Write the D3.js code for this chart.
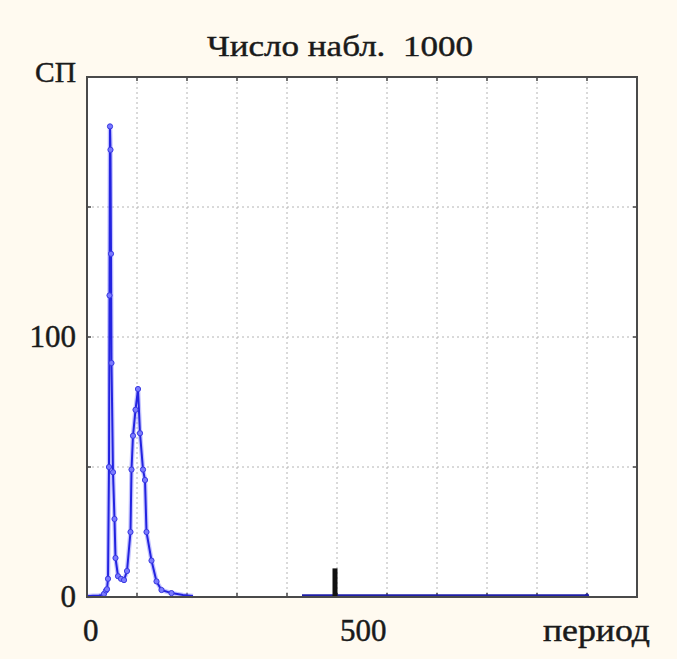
<!DOCTYPE html>
<html>
<head>
<meta charset="utf-8">
<script src="https://cdn.jsdelivr.net/npm/d3@7"></script>
<style>
  html, body { margin: 0; padding: 0; background: #fffaf0; }
  svg { display: block; }
  text { font-family: "Liberation Serif", "DejaVu Serif", serif; fill: #1a1a1a;
         stroke: #1a1a1a; stroke-width: 0.45px; white-space: pre; }
</style>
</head>
<body>
<svg id="chart" width="677" height="659"></svg>
<script>
// Periodogram of the series: spectral density (СП) against period
const titleText = "Число набл.  1000";
const yTitle = "СП";
const xTitle = "период";

// main spectrum: period and value
const periods = [0, 6, 12, 18, 24, 30, 34, 38, 40, 42, 44, 45, 46, 47, 48, 49, 52, 55, 57,
  62, 68, 74, 80, 87, 89, 92, 97, 102, 106, 112, 116, 119, 129, 139, 149, 169, 192, 212];
const values = [0.4, 0.4, 0.5, 0.5, 0.6, 0.8, 1.2, 2.5, 3, 7, 50, 116, 181, 172, 132, 90, 48, 30, 15,
  8, 7, 6.5, 10, 25, 49, 62, 72, 80, 63, 49, 45, 25, 14, 6, 2.7, 1.5, 0.8, 0.4];

// long-period tail of the spectrum
const tailPeriods = [430, 500, 600, 700, 800, 900, 1000];
const tailValues = [0.5, 0.5, 0.5, 0.5, 0.5, 0.5, 0.5];

// highlighted period marker
const markPeriod = 496;
const markValue = 11;

const xTicks = [0, 500];
const xGrid = [100, 200, 300, 400, 500, 600, 700, 800, 900, 1000];
const yTicks = [0, 100];
const yGrid = [50, 100, 150];

const svg = d3.select("#chart");
const plotL = 87, plotR = 637, plotT = 77, plotB = 597;

const x = d3.scaleLinear().domain([0, 1100]).range([plotL, plotR]);
const y = d3.scaleLinear().domain([0, 200]).range([plotB, plotT]);

// plot background
svg.append("rect")
  .attr("x", plotL).attr("y", plotT)
  .attr("width", plotR - plotL).attr("height", plotB - plotT)
  .attr("fill", "#ffffff");

// grid
svg.append("g").selectAll("line").data(xGrid).join("line")
  .attr("x1", d => x(d)).attr("x2", d => x(d))
  .attr("y1", plotT).attr("y2", plotB)
  .attr("stroke", "#b4b4b4").attr("stroke-width", 1)
  .attr("stroke-dasharray", "2,3");
svg.append("g").selectAll("line").data(yGrid).join("line")
  .attr("x1", plotL).attr("x2", plotR)
  .attr("y1", d => y(d)).attr("y2", d => y(d))
  .attr("stroke", "#b4b4b4").attr("stroke-width", 1)
  .attr("stroke-dasharray", "2,3");

// inner tick marks on frame
svg.append("g").selectAll("line").data(xGrid).join("line")
  .attr("x1", d => x(d)).attr("x2", d => x(d))
  .attr("y1", plotT).attr("y2", plotT + 4)
  .attr("stroke", "#444").attr("stroke-width", 1.5);
svg.append("g").selectAll("line").data(xGrid).join("line")
  .attr("x1", d => x(d)).attr("x2", d => x(d))
  .attr("y1", plotB).attr("y2", plotB - 4)
  .attr("stroke", "#444").attr("stroke-width", 1.5);
svg.append("g").selectAll("line").data(yGrid).join("line")
  .attr("x1", plotL).attr("x2", plotL + 4)
  .attr("y1", d => y(d)).attr("y2", d => y(d))
  .attr("stroke", "#444").attr("stroke-width", 1.5);
svg.append("g").selectAll("line").data(yGrid).join("line")
  .attr("x1", plotR).attr("x2", plotR - 4)
  .attr("y1", d => y(d)).attr("y2", d => y(d))
  .attr("stroke", "#444").attr("stroke-width", 1.5);

// spectrum line
const pts = periods.map((p, i) => [p, values[i]]);
const tail = tailPeriods.map((p, i) => [p, tailValues[i]]);
const line = d3.line().x(d => x(d[0])).y(d => y(d[1]));

// soft halo under the line
svg.append("path").datum(pts)
  .attr("d", line).attr("fill", "none")
  .attr("stroke", "#8c8cff").attr("stroke-width", 4.5).attr("stroke-opacity", 0.5)
  .attr("stroke-linejoin", "round");
svg.append("path").datum(pts)
  .attr("d", line).attr("fill", "none")
  .attr("stroke", "#2323e0").attr("stroke-width", 2)
  .attr("stroke-linejoin", "round");
svg.append("g").selectAll("circle").data(pts.filter(d => d[1] > 1)).join("circle")
  .attr("cx", d => x(d[0])).attr("cy", d => y(d[1]))
  .attr("r", 2.6)
  .attr("fill", "#7a7aff").attr("stroke", "#3a3ae0").attr("stroke-width", 1);

svg.append("path").datum(tail)
  .attr("d", line).attr("fill", "none")
  .attr("stroke", "#1f1fa8").attr("stroke-width", 3);
svg.append("circle")
  .attr("cx", x(tailPeriods[tailPeriods.length - 1]))
  .attr("cy", y(tailValues[tailValues.length - 1]))
  .attr("r", 2.2).attr("fill", "#1f1fa8");

// period marker
svg.append("rect")
  .attr("x", x(markPeriod) - 2.5).attr("y", y(markValue))
  .attr("width", 5).attr("height", y(0) - y(markValue))
  .attr("fill", "#111");

// frame
svg.append("rect")
  .attr("x", plotL).attr("y", plotT)
  .attr("width", plotR - plotL).attr("height", plotB - plotT)
  .attr("fill", "none").attr("stroke", "#4a4a4a").attr("stroke-width", 2);

// axis labels (left edge sits just off the tick, nudged right for wider labels)
svg.append("g").selectAll("text").data(xTicks).join("text")
  .attr("x", d => x(d) + (d === 0 ? -4 : 3)).attr("y", 641)
  .attr("text-anchor", "start")
  .attr("font-size", 31)
  .text(d => d);
svg.append("g").selectAll("text").data(yTicks).join("text")
  .attr("x", 76).attr("y", d => y(d) + 10)
  .attr("text-anchor", "end")
  .attr("font-size", 31)
  .text(d => d);

svg.append("text")
  .attr("x", 76).attr("y", y(200) + 5)
  .attr("text-anchor", "end")
  .attr("font-size", 30)
  .attr("textLength", 41).attr("lengthAdjust", "spacingAndGlyphs")
  .text(yTitle);

svg.append("text")
  .attr("x", 543).attr("y", 641)
  .attr("font-size", 31)
  .attr("textLength", 107).attr("lengthAdjust", "spacingAndGlyphs")
  .text(xTitle);

svg.append("text")
  .attr("x", 207).attr("y", 56)
  .attr("font-size", 30)
  .attr("textLength", 266).attr("lengthAdjust", "spacingAndGlyphs")
  .text(titleText);
</script>
</body>
</html>
